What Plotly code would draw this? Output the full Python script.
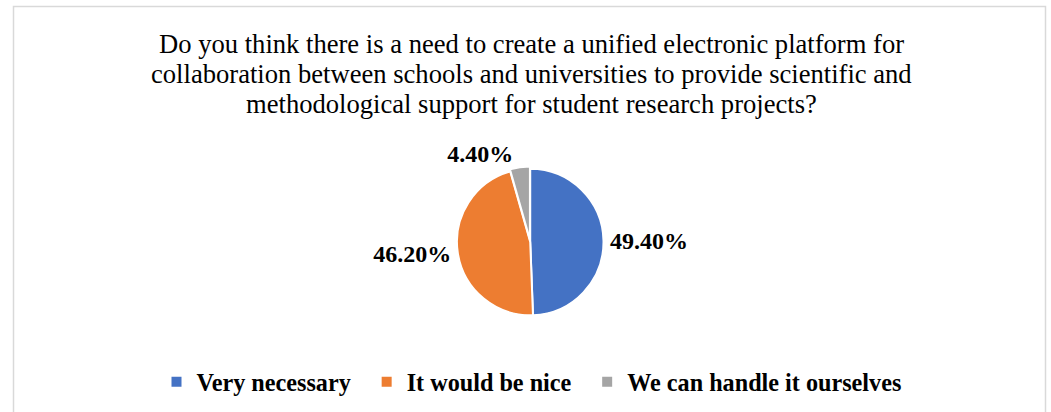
import plotly.graph_objects as go

categories = ["Very necessary", "It would be nice", "We can handle it ourselves"]
values = [49.4, 46.2, 4.4]
colors = ["#4472C4", "#ED7D31", "#A5A5A5"]
title_lines = [
    "Do you think there is a need to create a unified electronic platform for",
    "collaboration between schools and universities to provide scientific and",
    "methodological support for student research projects?",
]

W, H = 1051, 412
serif = "Liberation Serif"

legend_names = [c + "\u00a0\u2009" for c in categories]

fig = go.Figure(go.Pie(
    labels=legend_names,
    values=values,
    sort=False,
    direction="clockwise",
    rotation=0,
    pull=[0, 0, 0.03],
    marker=dict(colors=colors, line=dict(color="white", width=2)),
    textposition="outside",
    texttemplate="<b>%{value:.2f}%</b>",
    textfont=dict(family=serif, size=24, color="black"),
    domain=dict(x=[0.30, 0.709], y=[97/H - 0.006, 243/H + 0.006]),
    hoverinfo="label+percent",
    automargin=False,
))

line_y = [44, 74, 104]
annotations = [
    dict(text=t, xref="paper", yref="paper", x=531/W, y=1 - yy/H,
         xanchor="center", yanchor="middle", showarrow=False,
         font=dict(family=serif, size=26.6, color="black"))
    for t, yy in zip(title_lines, line_y)
]

fig.update_layout(
    width=W, height=H,
    margin=dict(l=0, r=0, t=0, b=0),
    paper_bgcolor="white",
    plot_bgcolor="white",
    font=dict(family=serif, color="black"),
    annotations=annotations,
    showlegend=True,
    legend=dict(orientation="h", x=537/W, xanchor="center", y=(H - 382)/H, yanchor="middle",
                font=dict(family=serif, size=24.2, color="black", weight="bold")),
    shapes=[dict(type="rect", xref="paper", yref="paper",
                 x0=13.5/W, x1=1045.5/W, y0=-0.05, y1=1 - 6.5/H,
                 line=dict(color="#D9D9D9", width=1.5), fillcolor="rgba(0,0,0,0)", layer="below")],
)

fig.write_html("out.html", config={"displayModeBar": False},
               post_script="document.body.style.margin='0';")
